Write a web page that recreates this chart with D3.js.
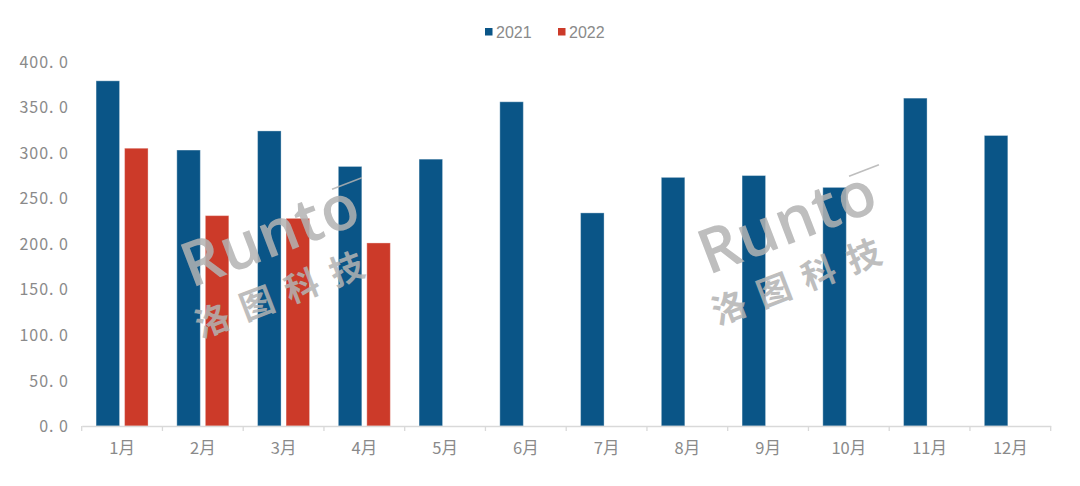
<!DOCTYPE html>
<html><head><meta charset="utf-8">
<script src="https://cdn.jsdelivr.net/npm/d3@7"></script>
<style>body{margin:0;background:#fff}svg{display:block}</style>
</head><body>
<svg id="c" width="1080" height="486"></svg>
<script>
const categories = ["1月","2月","3月","4月","5月","6月","7月","8月","9月","10月","11月","12月"];
const series2021 = [379, 303, 324, 285, 293, 356, 234, 273, 275, 262, 360, 319];
const series2022 = [305, 231, 228, 201, null, null, null, null, null, null, null, null];
const seriesNames = ["2021", "2022"];
const yTicks = [0, 50, 100, 150, 200, 250, 300, 350, 400];

const colors = ["#0A5587", "#CC3A29"];
const svg = d3.select("#c");
const x0 = 81.7, x1 = 1050.7, yBase = 426, yTop = 61.7;
const x = d3.scaleBand().domain(categories).range([x0, x1]);
const y = d3.scaleLinear().domain([0, 400]).range([yBase, yTop]);
const barW = 23.5, gap = 5;
const offset = (x.bandwidth() - (2 * barW + gap)) / 2;

// y axis labels
const yAxis = d3.axisLeft(y).tickValues(yTicks).tickSize(0).tickPadding(0)
  .tickFormat(d => d3.format(".1f")(d).replace(".", ". "));
const ga = svg.append("g").attr("transform", "translate(69,0)").call(yAxis);
ga.select(".domain").remove();
ga.selectAll("text").attr("font-family", "'Noto Sans CJK SC', sans-serif").attr("font-size", 16)
  .attr("fill", "#8a8a8a").attr("dy", "0.35em").style("letter-spacing", "1px");

// bars
const data = [];
categories.forEach((c, i) => {
  [series2021, series2022].forEach((s, k) => {
    if (s[i] != null) data.push({c, k, v: s[i]});
  });
});
svg.append("g").selectAll("rect").data(data).join("rect")
  .attr("x", d => x(d.c) + offset + d.k * (barW + gap))
  .attr("y", d => y(d.v))
  .attr("width", barW)
  .attr("height", d => yBase - y(d.v))
  .attr("fill", d => colors[d.k])
  .attr("stroke", "#ffffff").attr("stroke-opacity", 0.35).attr("stroke-width", 1);

// x axis
const xAxis = d3.axisBottom(x).tickSize(0).tickPadding(0);
const gx = svg.append("g").attr("transform", `translate(0,${yBase})`).call(xAxis);
gx.select(".domain").attr("stroke", "#d9d9d9").attr("stroke-width", 1.3);
gx.selectAll("text").attr("font-family", "'Noto Sans CJK SC', sans-serif").attr("font-size", 16.5)
  .attr("fill", "#8a8a8a").attr("dy", "0").attr("y", 28);
// boundary ticks
const bounds = categories.map(c => x(c)).concat([x1]);
svg.append("g").selectAll("line").data(bounds).join("line")
  .attr("x1", d => d).attr("x2", d => d).attr("y1", yBase).attr("y2", yBase + 5)
  .attr("stroke", "#d9d9d9").attr("stroke-width", 1.3);

// legend
const lg = svg.append("g");
const lx = [485, 558];
seriesNames.forEach((n, k) => {
  lg.append("rect").attr("x", lx[k]).attr("y", 28).attr("width", 7.5).attr("height", 7.5).attr("fill", colors[k]);
  lg.append("text").attr("x", lx[k] + 11).attr("y", 37.5).text(n)
    .attr("font-family", "'Liberation Sans', Arial, sans-serif").attr("font-size", 16).attr("fill", "#8a8a8a");
});

// watermarks
function watermark(cx, cy) {
  const g = svg.append("g").attr("transform", `translate(${cx},${cy}) rotate(-21)`).attr("opacity", 0.85);
  g.append("text").attr("x", 0).attr("y", 0).attr("text-anchor", "middle")
    .attr("font-family", "'Open Sans', sans-serif").attr("font-weight", 600)
    .attr("font-size", 62).attr("fill", "#b3b3b3").style("letter-spacing", "1px").text("Runto");
  g.append("text").attr("x", -6).attr("y", 50).attr("text-anchor", "middle")
    .attr("font-family", "'Noto Sans CJK SC', sans-serif").attr("font-weight", 700)
    .attr("font-size", 34).attr("fill", "#b3b3b3").style("letter-spacing", "14px").text("洛图科技");
  g.append("line").attr("x1", 74).attr("y1", -42).attr("x2", 106).attr("y2", -42)
    .attr("stroke", "#b3b3b3").attr("stroke-width", 1.5);
}
watermark(278, 255);
watermark(795, 242);
</script>
</body></html>
